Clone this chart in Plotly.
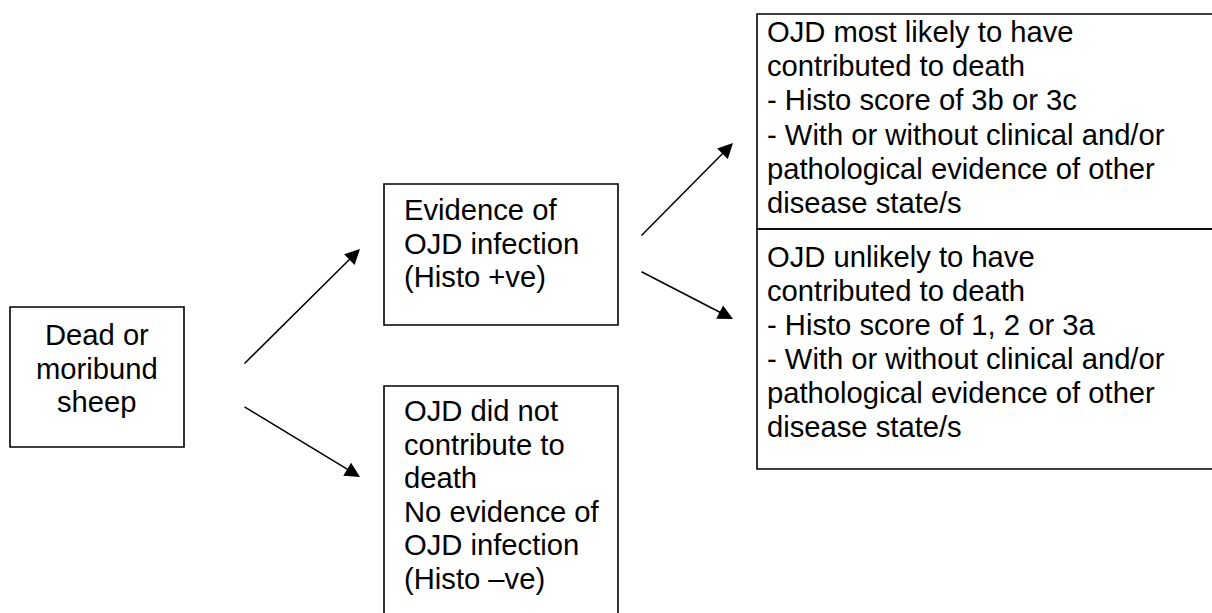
import plotly.graph_objects as go

# ---- content ----
box_start = ["Dead or", "moribund", "sheep"]
box_pos = ["Evidence of", "OJD infection", "(Histo +ve)"]
box_neg = ["OJD did not", "contribute to", "death", "No evidence of",
           "OJD infection", "(Histo \u2013ve)"]
box_likely = ["OJD most likely to have", "contributed to death",
              "- Histo score of 3b or 3c",
              "- With or without clinical and/or",
              "pathological evidence of other", "disease state/s"]
box_unlikely = ["OJD unlikely to have", "contributed to death",
                "- Histo score of 1, 2 or 3a",
                "- With or without clinical and/or",
                "pathological evidence of other", "disease state/s"]

W, H = 1212, 613
FONT = dict(family="Arial, 'Liberation Sans', sans-serif", size=29.2, color="black")

fig = go.Figure()

# layout: (lines, x0, y0, x1, y1, text_x, first_line_y, line_step, align)
boxes = [
    (box_start, 10, 307, 184, 447, 97, 335, 33.5, "center"),
    (box_pos, 384, 184, 618, 325, 402, 210, 33.5, "left"),
    (box_neg, 384, 386, 618, 660, 402, 411, 33.5, "left"),
    (box_likely, 757, 14, 1260, 229, 765, 32, 34.2, "left"),
    (box_unlikely, 757, 229, 1260, 469, 765, 257, 34.0, "left"),
]

shapes = []
annotations = []
for lines, x0, y0, x1, y1, tx, ty, step, al in boxes:
    shapes.append(dict(type="rect", xref="x", yref="y", x0=x0, y0=y0, x1=x1, y1=y1,
                       line=dict(color="black", width=1.6), fillcolor="rgba(0,0,0,0)"))
    for i, t in enumerate(lines):
        annotations.append(dict(x=tx, y=ty + i * step, xref="x", yref="y", text=t,
                                showarrow=False, font=FONT,
                                xanchor="center" if al == "center" else "left",
                                yanchor="middle"))

# arrows: (tail_x, tail_y, tip_x, tip_y)
arrows = [
    (243, 365, 360, 249),
    (243, 406, 360, 477),
    (640, 237, 733, 143),
    (640, 271, 733, 319),
]
for ax_, ay_, x_, y_ in arrows:
    annotations.append(dict(x=x_, y=y_, ax=ax_, ay=ay_, xref="x", yref="y",
                            axref="x", ayref="y", text="", showarrow=True,
                            arrowhead=2, arrowsize=2, arrowwidth=1.5,
                            arrowcolor="black", standoff=0))

fig.update_layout(
    width=W, height=H, margin=dict(l=0, r=0, t=0, b=0),
    paper_bgcolor="white", plot_bgcolor="white",
    xaxis=dict(range=[0, W], visible=False, fixedrange=True),
    yaxis=dict(range=[H, 0], visible=False, fixedrange=True),
    shapes=shapes, annotations=annotations, showlegend=False,
)
fig.write_html(
    "out.html",
    config={"displayModeBar": False},
    post_script="document.body.style.margin='0';document.body.style.overflow='hidden';",
)
